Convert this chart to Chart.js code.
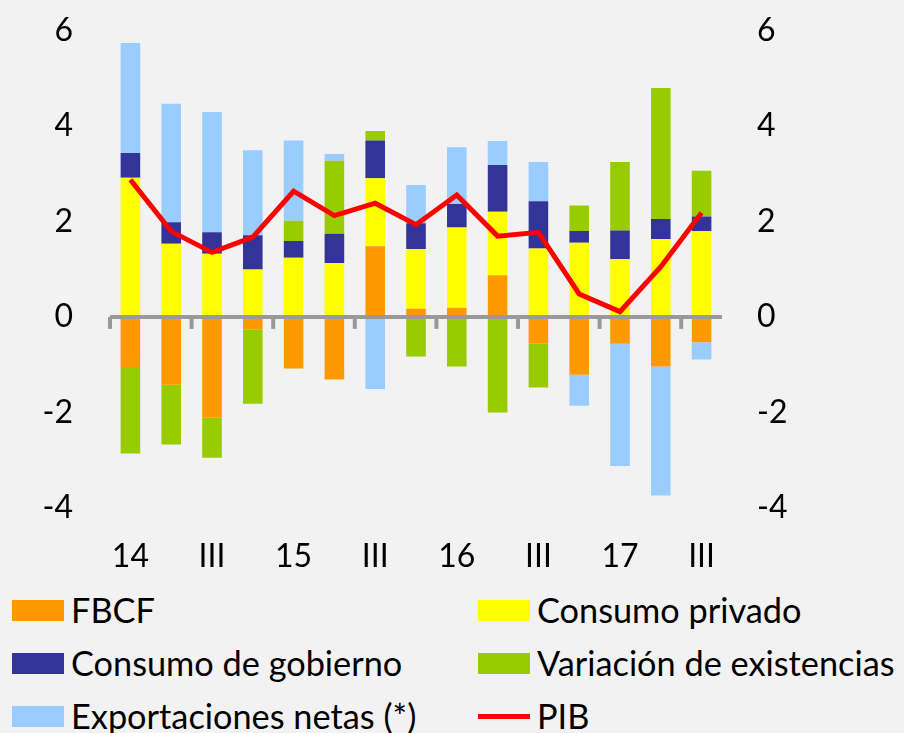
<!DOCTYPE html>
<html>
<head>
<meta charset="utf-8">
<script src="https://cdn.jsdelivr.net/npm/chart.js@4/dist/chart.umd.min.js"></script>
<style>
  body { margin: 0; background: #F2F2F2; font-family: Lato, sans-serif; overflow: hidden; }
  #wrap { position: relative; width: 904px; height: 733px; overflow: hidden; }
  #box { position: absolute; left: 0; top: -18px; width: 904px; height: 598px; }
  .leg { position: absolute; font-size: 34.3px; color: #000; line-height: 1; white-space: nowrap; }
  .sw { position: absolute; width: 52px; height: 21px; }
</style>
</head>
<body>
<div id="wrap">
  <div id="box"><canvas id="chart"></canvas></div>
</div>
<script>
// quarters 2014 I .. 2017 III
const quarters = ["14", "II", "III", "IV", "15", "II", "III", "IV", "16", "II", "III", "IV", "17", "II", "III"];
const yTicks = [-4, -2, 0, 2, 4, 6];

const fbcf        = [-1.05, -1.42, -2.11, -0.26, -1.08, -1.31, 1.48, 0.17, 0.19, 0.87, -0.56, -1.21, -0.56, -1.04, -0.53];
const consPrivado = [2.91, 1.53, 1.32, 0.99, 1.24, 1.13, 1.42, 1.25, 1.68, 1.33, 1.43, 1.55, 1.21, 1.63, 1.79];
const consGob     = [0.52, 0.45, 0.45, 0.72, 0.35, 0.61, 0.79, 0.54, 0.49, 0.98, 0.99, 0.25, 0.60, 0.42, 0.31];
const variacion   = [-1.81, -1.25, -0.84, -1.56, 0.42, 1.53, 0.20, -0.83, -1.04, -2.00, -0.92, 0.53, 1.43, 2.74, 0.96];
const exportNetas = [2.30, 2.48, 2.52, 1.78, 1.68, 0.14, -1.51, 0.80, 1.19, 0.50, 0.82, -0.65, -2.56, -2.70, -0.36];
const pib         = [2.87, 1.79, 1.35, 1.67, 2.63, 2.12, 2.38, 1.93, 2.55, 1.69, 1.77, 0.48, 0.11, 1.05, 2.18];

const barSeries = [
  { label: "FBCF", data: fbcf, color: "#FF9900" },
  { label: "Consumo privado", data: consPrivado, color: "#FFFF00" },
  { label: "Consumo de gobierno", data: consGob, color: "#333399" },
  { label: "Variación de existencias", data: variacion, color: "#99CC00" },
  { label: "Exportaciones netas (*)", data: exportNetas, color: "#99CCFF" }
];

const datasets = barSeries.map(s => ({
  type: "bar",
  label: s.label,
  data: s.data,
  backgroundColor: s.color,
  categoryPercentage: 1,
  barPercentage: 0.48,
  stack: "comp"
}));
datasets.push({
  type: "line",
  label: "PIB",
  data: pib,
  borderColor: "#FF0000",
  borderWidth: 5,
  pointRadius: 0,
  tension: 0,
  order: -1,
  stack: "pib"
});

// gray zero axis with tick marks, drawn over the bars but under the PIB line
const zeroAxis = {
  id: "zeroAxis",
  afterDatasetDraw(chart, args) {
    if (args.index !== 0) return;
    const ctx = chart.ctx;
    const x = chart.scales.x, y = chart.scales.y;
    const y0 = y.getPixelForValue(0);
    const step = (x.right - x.left) / quarters.length;
    ctx.save();
    ctx.strokeStyle = "#999999";
    ctx.lineWidth = 4;
    ctx.beginPath();
    ctx.moveTo(x.left, y0);
    ctx.lineTo(x.right, y0);
    ctx.stroke();
    for (let i = 0; i < quarters.length; i += 2) {
      const px = x.left + i * step;
      ctx.beginPath();
      ctx.moveTo(px, y0);
      ctx.lineTo(px, y0 + 12);
      ctx.stroke();
    }
    ctx.restore();
  }
};

const tickFont = { family: "Lato", size: 32 };

new Chart(document.getElementById("chart"), {
  type: "bar",
  data: { labels: quarters, datasets },
  options: {
    responsive: true,
    maintainAspectRatio: false,
    animation: false,
    layout: { padding: { top: 3, left: 0, right: 0, bottom: 0 } },
    plugins: { legend: { display: false }, tooltip: { enabled: false } },
    scales: {
      x: {
        stacked: true,
        grid: { display: false },
        border: { display: false },
        ticks: {
          autoSkip: false,
          maxRotation: 0,
          color: "#000",
          font: tickFont,
          padding: 21,
          callback: (v, i) => (i % 2 === 0 ? quarters[i] : "")
        },
        afterFit: s => { s.height = 72; }
      },
      y: {
        stacked: true,
        min: -4, max: 6,
        afterBuildTicks: s => { s.ticks = yTicks.map(v => ({ value: v })); },
        grid: { display: false },
        border: { display: false },
        ticks: { color: "#000", font: tickFont, padding: 29 },
        afterFit: s => { s.width = 110; }
      },
      y2: {
        position: "right",
        min: -4, max: 6,
        afterBuildTicks: s => { s.ticks = yTicks.map(v => ({ value: v })); },
        grid: { display: false },
        border: { display: false },
        ticks: { color: "#000", font: tickFont, padding: 27 },
        afterFit: s => { s.width = 182; }
      }
    }
  },
  plugins: [zeroAxis]
});

// legend, two columns x three rows
const wrap = document.getElementById("wrap");
const legendItems = barSeries.map(s => ({ label: s.label, color: s.color, line: false }));
legendItems.push({ label: "PIB", color: "#FF0000", line: true });
const colX = [12, 478];
const rowY = [610, 663, 716];
legendItems.forEach((it, k) => {
  const cx = colX[k % 2], cy = rowY[Math.floor(k / 2)];
  const sw = document.createElement("div");
  sw.className = "sw";
  sw.style.left = cx + "px";
  if (it.line) {
    sw.style.top = (cy - 2) + "px";
    sw.style.height = "5px";
  } else {
    sw.style.top = (cy - 10) + "px";
  }
  sw.style.background = it.color;
  wrap.appendChild(sw);
  const t = document.createElement("div");
  t.className = "leg";
  t.textContent = it.label;
  t.style.left = (cx + 59) + "px";
  t.style.top = (cy - 17) + "px";
  wrap.appendChild(t);
});
</script>
</body>
</html>
